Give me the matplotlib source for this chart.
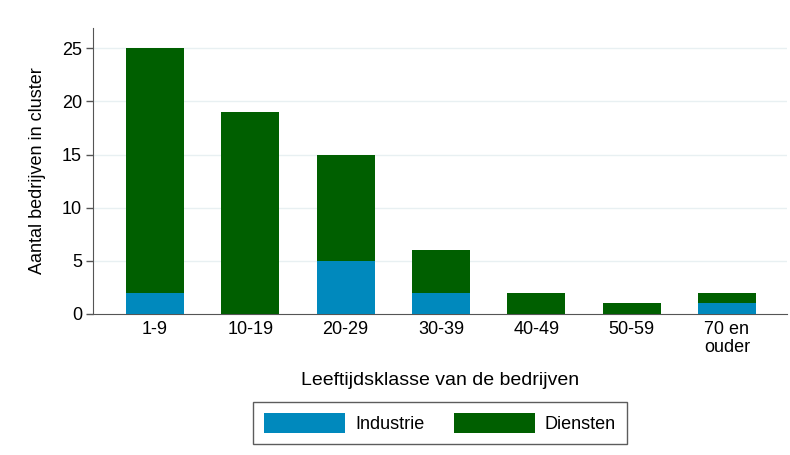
import matplotlib
matplotlib.use("Agg")
import matplotlib.pyplot as plt
import numpy as np

plt.rcParams['font.family'] = ['Liberation Sans', 'DejaVu Sans']

# leeftijdsklassen en aantallen
klassen = ["1-9", "10-19", "20-29", "30-39", "40-49", "50-59", "70 en\nouder"]
industrie = [2, 0, 5, 2, 0, 0, 1]
diensten = [23, 19, 10, 4, 2, 1, 1]

kleur_ind = "#0089bd"
kleur_dien = "#005f00"

fig = plt.figure(figsize=(7.9, 4.55), dpi=100)
ax = fig.add_axes([93/790, 1 - 314/455, (787 - 93)/790, (314 - 28)/455])

x = np.arange(len(klassen))
ax.bar(x, industrie, width=0.61, color=kleur_ind, label="Industrie", zorder=3)
ax.bar(x, diensten, width=0.61, bottom=industrie, color=kleur_dien, label="Diensten", zorder=3)

ax.set_xlim(-0.65, 6.63)
ax.set_ylim(0, 26.9)
ax.set_yticks([0, 5, 10, 15, 20, 25])
ax.set_xticks(x)
ax.set_xticklabels(klassen, fontsize=13, linespacing=1.05)
ax.tick_params(axis='x', length=0, pad=5)
ax.tick_params(axis='y', labelsize=13, length=5, width=1, color="#555555", pad=3)

for y in [5, 10, 15, 20, 25]:
    ax.axhline(y, color="#e8f0f2", lw=1, zorder=1)

for s in ["top", "right"]:
    ax.spines[s].set_visible(False)
ax.spines["left"].set_color("#555555")
ax.spines["bottom"].set_color("#555555")

ax.set_ylabel("Aantal bedrijven in cluster", fontsize=13, labelpad=11)
ax.set_xlabel("Leeftijdsklasse van de bedrijven", fontsize=14, labelpad=12)

leg = fig.legend(loc="center", bbox_to_anchor=(440/790, 1 - 423/455), ncol=2,
                 fontsize=13, frameon=True, fancybox=False, edgecolor="#333333",
                 handlelength=4.5, handleheight=1.3, columnspacing=1.6,
                 handletextpad=0.55, borderpad=0.6)
leg.get_frame().set_linewidth(1)

fig.savefig("out.png", dpi=100)
